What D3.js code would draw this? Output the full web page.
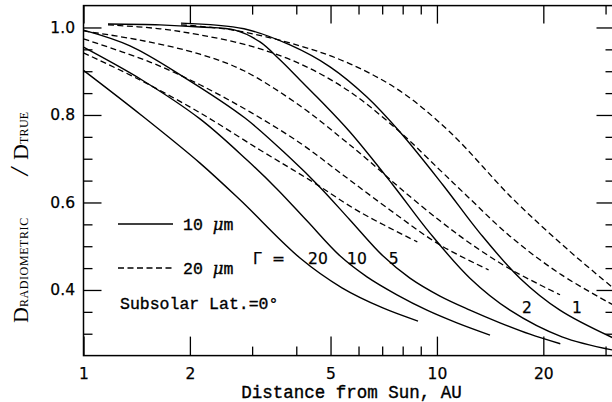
<!DOCTYPE html>
<html>
<head>
<meta charset="utf-8">
<script src="https://cdn.jsdelivr.net/npm/d3@7"></script>
<style>
  html, body { margin: 0; padding: 0; background: #fff; }
  svg { display: block; }
  .mono { font-family: "Liberation Mono", "DejaVu Sans Mono", monospace; }
  .num  { font-family: "DejaVu Sans", sans-serif; }
</style>
</head>
<body>
<svg id="chart" width="612" height="402"></svg>
<script>
// Heliocentric distance (AU) vs D_radiometric / D_true, subsolar latitude 0°.
// Each series: [distance AU, ratio]. "s" = 10 µm, "d" = 20 µm, suffix = Γ.
const s20 = [[1.0,0.902],[1.455,0.800],[2.136,0.690],[2.772,0.606],[4.098,0.473],[5.386,0.405],[7.03,0.359],[8.84,0.329]];
const s10 = [[1.0,0.955],[1.464,0.880],[2.136,0.791],[2.901,0.697],[3.527,0.631],[4.288,0.558],[5.316,0.478],[6.339,0.430],[7.707,0.389],[9.37,0.354],[11.39,0.325],[14.13,0.297]];
const s5  = [[1.0,0.994],[1.354,0.958],[1.937,0.885],[2.864,0.793],[3.839,0.702],[4.667,0.635],[5.675,0.560],[7.03,0.478],[8.387,0.427],[10.20,0.386],[12.40,0.354],[15.08,0.325],[18.33,0.299],[22.34,0.277]];
const s2  = [[1.173,1.008],[1.646,1.006],[2.136,1.001],[2.684,0.994],[3.158,0.967],[3.596,0.926],[4.098,0.880],[4.577,0.841],[5.675,0.761],[7.509,0.640],[9.555,0.530],[12.40,0.427],[16.09,0.354],[22.58,0.293],[31.8,0.262]];
const s1  = [[1.887,1.010],[2.845,0.997],[3.839,0.960],[4.983,0.910],[6.339,0.841],[7.860,0.761],[10.40,0.640],[13.23,0.530],[17.17,0.427],[22.28,0.354],[31.8,0.289]];

const d20 = [[1.0,0.942],[1.445,0.880],[2.136,0.805],[3.158,0.720],[4.372,0.651],[6.057,0.578],[8.8,0.510]];
const d10 = [[1.0,0.974],[1.542,0.921],[2.136,0.869],[2.958,0.807],[4.098,0.736],[5.421,0.663],[7.363,0.583],[10.20,0.503],[14.0,0.446]];
const d5  = [[1.0,0.992],[1.445,0.971],[2.136,0.939],[2.845,0.901],[4.098,0.821],[5.316,0.750],[6.339,0.699],[7.860,0.633],[10.20,0.558],[12.40,0.507],[16.09,0.448],[22.3,0.389]];
const d2  = [[1.173,1.006],[1.646,0.997],[2.136,0.983],[2.958,0.958],[4.098,0.917],[5.675,0.853],[7.860,0.761],[10.20,0.674],[12.16,0.615],[16.09,0.523],[22.28,0.437],[31.8,0.364]];
const d1  = [[1.887,1.006],[2.648,0.994],[4.098,0.958],[5.675,0.917],[7.860,0.855],[10.88,0.761],[16.41,0.608],[23.33,0.494],[31.8,0.402]];

const solidSeries  = [s20, s10, s5, s2, s1];
const dashedSeries = [d20, d10, d5, d2, d1];

// Axis ticks
const xDomain = [1, 31.8];
const yDomain = [0.25, 1.05];
const xMajor = [1, 2, 5, 10, 20];
const xMinor = [3, 4, 6, 7, 8, 9, 30];
const yMajor = [0.4, 0.6, 0.8, 1.0];
const yMinor = [0.3, 0.35, 0.45, 0.5, 0.55, 0.65, 0.7, 0.75, 0.85, 0.9, 0.95];

// Curve labels (Γ values) with the ratio level they sit at
const gammaLabels = [
  { text: "20", r: 4.32, v: 0.473 },
  { text: "10", r: 5.57, v: 0.473 },
  { text: "5",  r: 7.31, v: 0.473 }
];
const gammaLabelsLow = [
  { text: "2", r: 17.4, v: 0.359 },
  { text: "1", r: 24.1, v: 0.359 }
];

const svg = d3.select("#chart");
const P = { left: 83.5, right: 614.5, top: 5.6, bottom: 355.6 };

const x = d3.scaleLog().domain(xDomain).range([P.left, P.right]);
const y = d3.scaleLinear().domain(yDomain).range([P.bottom, P.top]);

svg.append("defs").append("clipPath").attr("id", "plotclip")
  .append("rect").attr("x", P.left).attr("y", P.top)
  .attr("width", P.right - P.left).attr("height", P.bottom - P.top);

// Axes: ticks point inward on all four sides
function styleAxis(g) {
  g.select(".domain").remove();
  g.selectAll(".tick line").attr("stroke", "#000").attr("stroke-width", 1.3);
  g.selectAll(".tick text").attr("fill", "#000").attr("class", "num")
    .style("font-size", "15.5px").attr("stroke", "#000").attr("stroke-width", 0.25);
}

svg.append("g").attr("transform", `translate(0,${P.bottom})`)
  .call(d3.axisBottom(x).tickValues(xMajor).tickSize(-19).tickPadding(12).tickFormat(d3.format("d")))
  .call(styleAxis);
svg.append("g").attr("transform", `translate(0,${P.bottom})`)
  .call(d3.axisBottom(x).tickValues(xMinor).tickSize(-9).tickFormat(""))
  .call(styleAxis);
svg.append("g").attr("transform", `translate(0,${P.top})`)
  .call(d3.axisTop(x).tickValues(xMajor).tickSize(-18).tickFormat(""))
  .call(styleAxis);
svg.append("g").attr("transform", `translate(0,${P.top})`)
  .call(d3.axisTop(x).tickValues(xMinor).tickSize(-9).tickFormat(""))
  .call(styleAxis);

svg.append("g").attr("transform", `translate(${P.left},0)`)
  .call(d3.axisLeft(y).tickValues(yMajor).tickSize(-18).tickPadding(8.5).tickFormat(d3.format(".1f")))
  .call(styleAxis);
svg.append("g").attr("transform", `translate(${P.left},0)`)
  .call(d3.axisLeft(y).tickValues(yMinor).tickSize(-9).tickFormat(""))
  .call(styleAxis);
svg.append("g").attr("transform", `translate(${P.right},0)`)
  .call(d3.axisRight(y).tickValues(yMajor).tickSize(-18).tickFormat(""))
  .call(styleAxis);
svg.append("g").attr("transform", `translate(${P.right},0)`)
  .call(d3.axisRight(y).tickValues(yMinor).tickSize(-9).tickFormat(""))
  .call(styleAxis);

// Frame
svg.append("rect")
  .attr("x", P.left).attr("y", P.top)
  .attr("width", P.right - P.left).attr("height", P.bottom - P.top)
  .attr("fill", "none").attr("stroke", "#000").attr("stroke-width", 1.5);

// Curves, smoothed through the sampled points
const line = d3.line()
  .x(d => x(d[0])).y(d => y(d[1]))
  .curve(d3.curveCatmullRom.alpha(0.5));

const curves = svg.append("g").attr("clip-path", "url(#plotclip)");
curves.selectAll("path.solid").data(solidSeries).join("path")
  .attr("class", "solid")
  .attr("d", line).attr("fill", "none")
  .attr("stroke", "#000").attr("stroke-width", 1.4);
curves.selectAll("path.dashed").data(dashedSeries).join("path")
  .attr("class", "dashed")
  .attr("d", line).attr("fill", "none")
  .attr("stroke", "#000").attr("stroke-width", 1.3)
  .attr("stroke-dasharray", "6,3.5");

// Γ labels next to the curves
const labelG = svg.append("g").attr("class", "num")
  .style("font-size", "15.5px").attr("fill", "#000")
  .attr("stroke", "#000").attr("stroke-width", 0.25);
labelG.append("text").attr("x", 253).attr("y", y(0.473) + 5.5).text("Γ");
labelG.append("text").attr("x", 272).attr("y", y(0.473) + 5.5).text("=");
labelG.selectAll("text.g1").data(gammaLabels).join("text")
  .attr("class", "g1")
  .attr("x", d => x(d.r)).attr("y", d => y(d.v) + 5.5).text(d => d.text);
labelG.selectAll("text.g2").data(gammaLabelsLow).join("text")
  .attr("class", "g2")
  .attr("x", d => x(d.r)).attr("y", d => y(d.v) + 5.5).text(d => d.text);

// Legend
const leg = svg.append("g");
leg.append("line").attr("x1", 118).attr("x2", 173).attr("y1", 224).attr("y2", 224)
  .attr("stroke", "#000").attr("stroke-width", 1.4);
leg.append("line").attr("x1", 118).attr("x2", 173).attr("y1", 268).attr("y2", 268)
  .attr("stroke", "#000").attr("stroke-width", 1.3).attr("stroke-dasharray", "6,3.5");

function legText(yy, num) {
  const t = leg.append("text").attr("x", 183).attr("y", yy)
    .attr("class", "mono").style("font-size", "16.5px")
    .attr("stroke", "#000").attr("stroke-width", 0.35);
  t.append("tspan").text(num + " ");
  t.append("tspan").style("font-family", "'DejaVu Serif', serif").style("font-style", "italic").text("μ");
  t.append("tspan").text("m");
}
legText(230, "10");
legText(274, "20");

leg.append("text").attr("x", 120).attr("y", 309)
  .attr("class", "mono").style("font-size", "16.5px")
  .attr("stroke", "#000").attr("stroke-width", 0.35)
  .text("Subsolar Lat.=0°");

// Axis titles
svg.append("text").attr("x", (240 + 463) / 2).attr("y", 397.5)
  .attr("text-anchor", "middle")
  .attr("class", "mono").style("font-size", "17.5px")
  .attr("stroke", "#000").attr("stroke-width", 0.35)
  .text("Distance from Sun, AU");

const yt = svg.append("text")
  .attr("transform", "translate(28,323) rotate(-90)")
  .style("font-family", "'Liberation Serif', serif")
  .attr("fill", "#000");
yt.append("tspan").style("font-size", "22px").text("D");
yt.append("tspan").style("font-size", "12px").style("letter-spacing", "0.6px").text("RADIOMETRIC");
yt.append("tspan").attr("dx", 42).style("font-size", "26px").style("font-style", "italic").text("/");
yt.append("tspan").attr("dx", 8).style("font-size", "22px").text("D");
yt.append("tspan").style("font-size", "12px").style("letter-spacing", "0.3px").text("TRUE");
</script>
</body>
</html>
